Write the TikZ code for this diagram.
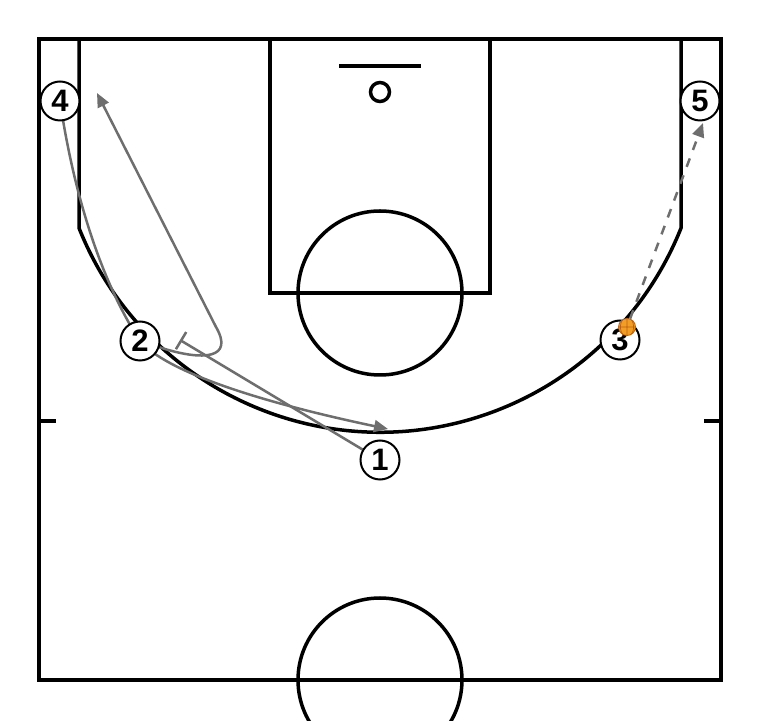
\documentclass[tikz,border=0pt]{standalone}
\usepackage{fontspec}
\usepackage{xcolor}
\usepackage{tikz}
\usetikzlibrary{arrows.meta}
\newfontfamily\numfont{Liberation Sans}
\definecolor{movegray}{RGB}{110,110,110}
\definecolor{ballorange}{RGB}{242,158,38}
\definecolor{ballseam}{RGB}{185,95,15}
\pgfdeclarelayer{court}
\pgfdeclarelayer{moves}
\pgfsetlayers{court,moves,main}
\tikzset{
	court/.style={line width=3.5pt},
	player/.style={circle,draw,line width=2pt,fill=white,minimum size=39pt,inner sep=0pt,
		font=\numfont\bfseries\fontsize{31}{31}\selectfont},
	move/.style={draw=movegray,line width=2.5pt,-{Triangle[length=14pt,width=12pt]}},
	pass/.style={move,dash pattern=on 9pt off 9pt},
	screen/.style={draw=movegray,line width=2.5pt,-{Bar[width=20pt]}},
	ball/.style={circle,draw=ballseam,fill=ballorange,line width=0.8pt,minimum size=17pt,inner sep=0pt,
		path picture={
			\draw[ballseam,line width=0.7pt]
				(path picture bounding box.west) -- (path picture bounding box.east)
				(path picture bounding box.north) -- (path picture bounding box.south)
				([shift={(-4,8)}]path picture bounding box.center) to[bend right=35] ([shift={(-4,-8)}]path picture bounding box.center)
				([shift={(4,8)}]path picture bounding box.center) to[bend left=35] ([shift={(4,-8)}]path picture bounding box.center);
		}}
}

\begin{document}
\begin{tikzpicture}[x=1pt,y=1pt]
	\useasboundingbox (0,0) rectangle (760,720);
	\clip (0,0) rectangle (760,720);
	\begin{pgfonlayer}{court}
		\draw[court] (39,40) rectangle (721,681);
		\draw[court] (270,681) -- (270,427) -- (490,427) -- (490,681);
		\draw[court] (380,427) circle (82);
		\draw[court] (380,40) circle (82);
		\draw[court] (339,654) -- (421,654);
		\draw[line width=3.5pt] (380,628) circle (9.5);
		\draw[court] (79,681) -- (79,492) arc (201.7:338.3:324) -- (681,681);
		\draw[court] (39,299) -- (56,299);
		\draw[court] (704,299) -- (721,299);
	\end{pgfonlayer}
	\node[player] (p4) at (60,619) {4};
	\node[player] (p5) at (700,619) {5};
	\node[player] (p2) at (140,379) {2};
	\node[player] (p3) at (620,380) {3};
	\node[player] (p1) at (380,260) {1};
	\node[ball] (ball) at (627,393) {};
	\coordinate (cut4) at (388,291);
	\coordinate (cut2) at (97,627);
	\coordinate (scr) at (180,380);
	\coordinate (pass5) at (703,597);
	\begin{pgfonlayer}{moves}
		\draw[move] (p4.center) .. controls (73,530) and (100,440) .. (p2.center)
			.. controls (165,350) and (250,320) .. (cut4);
		\draw[move] (p2) .. controls (205,358) and (234,362) .. (216,393) -- (cut2);
		\draw[screen] (p1) -- (scr);
		\draw[pass] (ball) -- (pass5);
	\end{pgfonlayer}
\end{tikzpicture}
\end{document}
